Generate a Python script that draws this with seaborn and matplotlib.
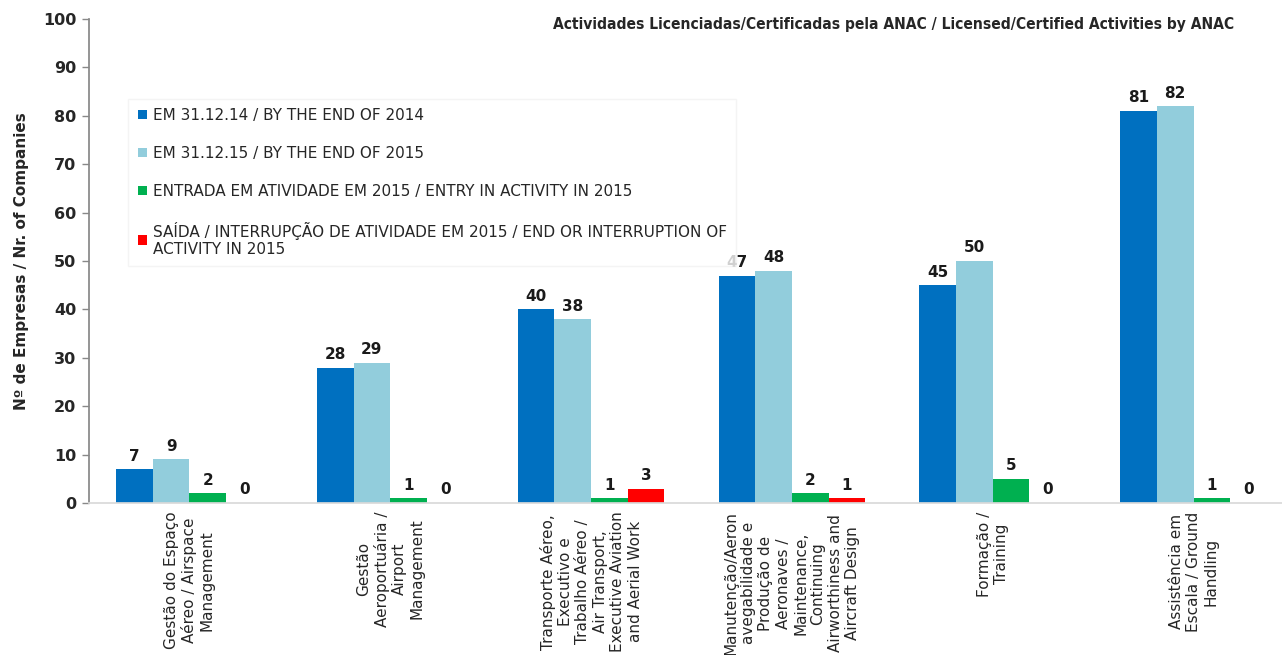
import matplotlib
matplotlib.use("Agg")
import matplotlib.pyplot as plt
import seaborn as sns
import pandas as pd
from matplotlib.patches import Patch

categories = [
    "Gestão do Espaço\nAéreo / Airspace\nManagement",
    "Gestão\nAeroportuária /\nAirport\nManagement",
    "Transporte Aéreo,\nExecutivo e\nTrabalho Aéreo /\nAir Transport,\nExecutive Aviation\nand Aerial Work",
    "Manutenção/Aeron\navegabilidade e\nProdução de\nAeronaves /\nMaintenance,\nContinuing\nAirworthiness and\nAircraft Design",
    "Formação /\nTraining",
    "Assistência em\nEscala / Ground\nHandling",
]
series_names = [
    "EM 31.12.14 / BY THE END OF 2014",
    "EM 31.12.15 / BY THE END OF 2015",
    "ENTRADA EM ATIVIDADE EM 2015 / ENTRY IN ACTIVITY IN 2015",
    "SAÍDA / INTERRUPÇÃO DE ATIVIDADE EM 2015 / END OR INTERRUPTION OF\nACTIVITY IN 2015",
]
end_2014 = [7, 28, 40, 47, 45, 81]
end_2015 = [9, 29, 38, 48, 50, 82]
entry_2015 = [2, 1, 1, 2, 5, 1]
exit_2015 = [0, 0, 3, 1, 0, 0]
colors = ["#0070C0", "#92CDDC", "#00B050", "#FF0000"]
yticks = list(range(0, 101, 10))

rows = []
for s, vals in zip(series_names, [end_2014, end_2015, entry_2015, exit_2015]):
    for c, v in zip(categories, vals):
        rows.append({"cat": c, "series": s, "value": v})
df = pd.DataFrame(rows)

sns.set_theme(style="white")
plt.rcParams["font.family"] = ["DejaVu Sans"]

fig = plt.figure(figsize=(12.82, 6.55), dpi=100)
ax = fig.add_axes([0.0694, 0.232, 0.9306, 0.739])

sns.barplot(data=df, x="cat", y="value", hue="series", hue_order=series_names,
            order=categories, palette=colors, saturation=1, width=0.73,
            ax=ax, legend=False, errorbar=None, linewidth=0, edgecolor="none")

for cont in ax.containers:
    ax.bar_label(cont, padding=4, fontsize=11, fontweight="bold", color="#1a1a1a")

ax.set_ylim(0, 100)
ax.set_yticks(yticks)
ax.set_yticklabels([str(t) for t in yticks], fontsize=11.5, fontweight="bold")
ax.set_xlim(-0.5, 5.44)
ax.tick_params(axis="x", length=0, pad=6)
ax.tick_params(axis="y", length=5, width=1, color="#888888", left=True, pad=4)
for lbl in ax.get_xticklabels():
    lbl.set_rotation(90)
    lbl.set_fontsize(11)
    lbl.set_ha("center")
    lbl.set_va("top")
    lbl.set_multialignment("center")
ax.set_xlabel("")
ax.set_ylabel("Nº de Empresas / Nr. of Companies", fontsize=11, fontweight="bold", labelpad=10)
for side in ["top", "right"]:
    ax.spines[side].set_visible(False)
ax.spines["left"].set_color("#888888")
ax.spines["bottom"].set_color("#d9d9d9")

handles = [Patch(facecolor=c, edgecolor="none") for c in colors]
leg = ax.legend(handles, series_names, loc="upper left", bbox_to_anchor=(0.033, 0.835),
                fontsize=11, handlelength=0.6, handleheight=0.6, handletextpad=0.4,
                labelspacing=1.5, frameon=True, fancybox=False, borderpad=0.6,
                borderaxespad=0)
leg.get_frame().set_edgecolor("#f2f2f2")
leg.get_frame().set_facecolor("white")

fig.text(0.697, 0.962, "Actividades Licenciadas/Certificadas pela ANAC / Licensed/Certified Activities by ANAC",
         ha="center", va="center", fontsize=11.2, fontweight="bold", fontstretch="condensed",
         family=["DejaVu Sans"])

fig.savefig("out.png", dpi=100)
